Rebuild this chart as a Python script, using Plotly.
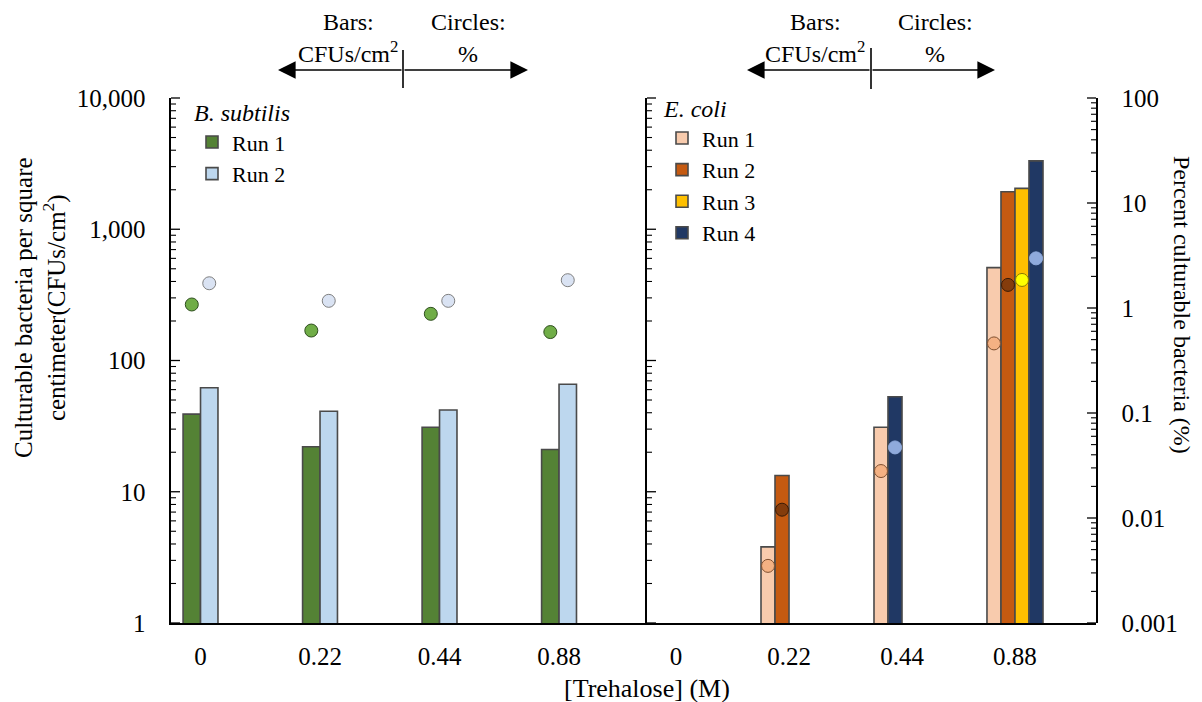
import math
import plotly.graph_objects as go

# ---------------- data ----------------
categories = ["0", "0.22", "0.44", "0.88"]

# B. subtilis: bars = CFUs/cm2, circles = percent culturable
bs_run1_cfu = [39, 22, 31, 21]
bs_run2_cfu = [62, 41, 42, 66]
bs_run1_pct = [1.08, 0.61, 0.88, 0.59]
bs_run2_pct = [1.72, 1.17, 1.17, 1.84]

# E. coli
ec_run1_cfu = [None, 3.8, 31, 510]
ec_run2_cfu = [None, 13.3, None, 1930]
ec_run3_cfu = [None, None, None, 2050]
ec_run4_cfu = [None, None, 53, 3320]
ec_run1_pct = [None, 0.0035, 0.028, 0.46]
ec_run2_pct = [None, 0.012, None, 1.66]
ec_run3_pct = [None, None, None, 1.85]
ec_run4_pct = [None, None, 0.047, 2.97]

pct_tickvals = [0.001, 0.01, 0.1, 1, 10, 100]
pct_ticktext = ["0.001", "0.01", "0.1", "1", "10", "100"]

# ---------------- layout helpers ----------------
FONT = "Liberation Serif"
W, H = 1202, 702
L, R, T, B = 171, 1096, 98, 623
SPLIT = 647
CFU_RANGE = [0, 4]      # log10 range of the CFU axes
PCT_RANGE = [-3, 2]     # log10 range of the percent axis


def px(x):
    return (x - L) / (R - L)


def py(y):
    return (B - y) / (B - T)


# slot layout (which position within the cluster each bar occupies)
bs_slots = {"r1": [0, 0, 0, 0], "r2": [1, 1, 1, 1]}
ec_slots = {"r1": [0, 0, 0, 0], "r2": [1, 1, 1, 1], "r3": [2, 2, 2, 2], "r4": [3, 3, 1, 3]}
BS_W, BS_N = 0.146, 2
EC_W, EC_N = 0.124, 4
LEFT_RANGE = [-0.247, 3.736]
RIGHT_RANGE = [-0.257, 3.717]


def xpos(slots, w, n):
    return [i + (s - (n - 1) / 2) * w for i, s in enumerate(slots)]


EDGE = "#4A4A4A"
fig = go.Figure()

# ---- B. subtilis ----
bs_series = [
    ("Run 1", bs_run1_cfu, bs_run1_pct, bs_slots["r1"], "#548235", "#70AD47", "#2F4F1F"),
    ("Run 2", bs_run2_cfu, bs_run2_pct, bs_slots["r2"], "#BDD7EE", "#DAE3F3", "#7F7F7F"),
]
for name, cfu, pct, slots, bcol, ccol, cedge in bs_series:
    xs = xpos(slots, BS_W, BS_N)
    fig.add_trace(go.Bar(x=xs, y=cfu, width=BS_W, name=name, marker=dict(color=bcol, line=dict(color=EDGE, width=1.6)),
                         xaxis="x", yaxis="y", legend="legend"))
for name, cfu, pct, slots, bcol, ccol, cedge in bs_series:
    xs = xpos(slots, BS_W, BS_N)
    fig.add_trace(go.Scatter(x=xs, y=pct, mode="markers", showlegend=False,
                             marker=dict(size=13, color=ccol, line=dict(color=cedge, width=1)),
                             xaxis="x", yaxis="y3"))

# ---- E. coli ----
ec_series = [
    ("Run 1", ec_run1_cfu, ec_run1_pct, ec_slots["r1"], "#F8CBAD", "#F4B183", "#7F4F2F"),
    ("Run 2", ec_run2_cfu, ec_run2_pct, ec_slots["r2"], "#C55A11", "#843C0C", "#3A1A05"),
    ("Run 3", ec_run3_cfu, ec_run3_pct, ec_slots["r3"], "#FFC000", "#FFFF00", "#8C7A00"),
    ("Run 4", ec_run4_cfu, ec_run4_pct, ec_slots["r4"], "#203864", "#8FAADC", "#8FAADC"),
]
for name, cfu, pct, slots, bcol, ccol, cedge in ec_series:
    xs = xpos(slots, EC_W, EC_N)
    fig.add_trace(go.Bar(x=xs, y=cfu, width=EC_W, name=name, marker=dict(color=bcol, line=dict(color=EDGE, width=1.6)),
                         xaxis="x2", yaxis="y2", legend="legend2"))
for name, cfu, pct, slots, bcol, ccol, cedge in ec_series:
    xs = xpos(slots, EC_W, EC_N)
    fig.add_trace(go.Scatter(x=xs, y=pct, mode="markers", showlegend=False,
                             marker=dict(size=13, color=ccol, line=dict(color=cedge, width=1)),
                             xaxis="x3", yaxis="y4"))

tickfont = dict(family=FONT, size=25, color="black")
NB = "\u00a0"
xcommon = dict(type="linear", tickmode="array", tickvals=[0, 1, 2, 3], ticktext=categories,
               showline=True, linecolor="black", linewidth=1.6, showgrid=False, zeroline=False,
               ticks="outside", ticklen=10, tickcolor="rgba(0,0,0,0)", tickfont=tickfont)
yline = dict(type="log", ticks="", showline=True, linecolor="black", linewidth=1.6,
             showgrid=False, zeroline=False)

fig.update_layout(
    width=W, height=H,
    margin=dict(l=L, r=W - R, t=T, b=H - B, pad=0),
    paper_bgcolor="white", plot_bgcolor="rgba(0,0,0,0)",
    font=dict(family=FONT, size=22, color="black"),
    barmode="overlay",
    xaxis=dict(domain=[0, px(SPLIT)], range=LEFT_RANGE, anchor="y", **xcommon),
    xaxis2=dict(domain=[px(SPLIT), 1], range=RIGHT_RANGE, anchor="y2", **xcommon),
    xaxis3=dict(domain=[px(SPLIT), 1], range=RIGHT_RANGE, anchor="y4", visible=False),
    yaxis=dict(range=CFU_RANGE, anchor="x", tickmode="linear", tick0=0, dtick=1, tickformat=",",
               exponentformat="none", tickfont=tickfont, ticksuffix=NB * 3, **yline),
    yaxis3=dict(type="log", range=PCT_RANGE, overlaying="y", anchor="x", side="right", visible=False),
    yaxis2=dict(range=CFU_RANGE, anchor="x2", showticklabels=False, **yline),
    yaxis4=dict(range=PCT_RANGE, anchor="x3", side="right", tickmode="array", tickvals=pct_tickvals,
                ticktext=[NB * 3 + t for t in pct_ticktext], tickfont=tickfont, **yline),
    legend=dict(title=dict(text="<i>B. subtilis</i>", font=dict(family=FONT, size=24)),
                x=px(192), y=py(90), xanchor="left", yanchor="top", bgcolor="rgba(0,0,0,0)",
                font=dict(family=FONT, size=22), itemwidth=30, tracegroupgap=0),
    legend2=dict(title=dict(text="<i>E. coli</i>", font=dict(family=FONT, size=24)),
                 x=px(662), y=py(86), xanchor="left", yanchor="top", bgcolor="rgba(0,0,0,0)",
                 font=dict(family=FONT, size=22), itemwidth=30, tracegroupgap=0),
    showlegend=True,
)


# inside log tick marks (major decades + 2..9 minors), placed relative to each axis domain
def add_log_ticks(xref, yref, x_edge, direction, rng, panel_px):
    lo, hi = rng
    for e in range(lo, hi + 1):
        for d in range(1, 10):
            if e == hi and d > 1:
                break
            f = (math.log10(d) + e - lo) / (hi - lo)
            length = (9 if d == 1 else 5) / panel_px
            fig.add_shape(type="line", xref=xref, yref=yref, x0=x_edge, x1=x_edge + direction * length,
                          y0=f, y1=f, layer="above",
                          line=dict(color="black", width=1.3 if d == 1 else 1.1))


left_px = SPLIT - L
right_px = R - SPLIT
add_log_ticks("x domain", "y domain", 0, 1, CFU_RANGE, left_px)
add_log_ticks("x2 domain", "y2 domain", 0, 1, CFU_RANGE, right_px)
add_log_ticks("x3 domain", "y4 domain", 1, -1, PCT_RANGE, right_px)

ann = []


def text_ann(text, x, y, size=24, angle=0):
    return dict(text=text, x=px(x), y=py(y), xref="paper", yref="paper", showarrow=False,
                xanchor="center", yanchor="middle", textangle=angle, font=dict(family=FONT, size=size))


# axis titles
ann.append(text_ann("Culturable bacteria per square<br>centimeter(CFUs/cm<sup>2</sup>)", 40, 308, 25, -90))
ann.append(text_ann("Percent culturable bacteria (%)", 1182, 305, 24, 90))
ann.append(text_ann("[Trehalose] (M)", 647, 688, 26))

# top "Bars / Circles" keys
for bx, cx, mid, ltip, rtip, vtop, vbot in [(348, 468, 403, 278, 528, 50, 88), (815, 935, 871, 747, 995, 48, 89)]:
    ann.append(text_ann("Bars:", bx, 22))
    ann.append(text_ann("CFUs/cm<sup>2</sup>", bx, 52))
    ann.append(text_ann("Circles:", cx, 22))
    ann.append(text_ann("%", cx, 54))
    for tip in (ltip, rtip):
        ann.append(dict(text="", x=px(tip), y=py(70), xref="paper", yref="paper", showarrow=True,
                        ax=mid - tip, ay=0, axref="pixel", ayref="pixel", arrowhead=2, arrowsize=2.2,
                        arrowwidth=1.6, arrowcolor="black", standoff=0, startstandoff=0))
    fig.add_shape(type="line", xref="paper", yref="paper", x0=px(mid), x1=px(mid), y0=py(vtop), y1=py(vbot),
                  line=dict(color="black", width=1.6))

fig.update_layout(annotations=ann)
fig.write_html("out.html")
